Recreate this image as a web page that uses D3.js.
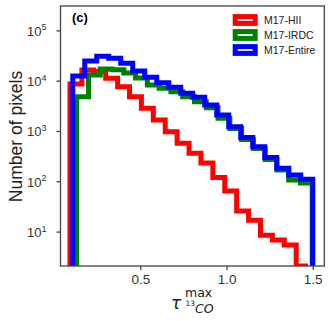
<!DOCTYPE html>
<html>
<head>
<meta charset="utf-8">
<script src="https://cdn.jsdelivr.net/npm/d3@7"></script>
<style>
  body { margin: 0; background: #fff; }
  text { font-family: "Liberation Sans", Arial, sans-serif; }
</style>
</head>
<body>
<div id="container-hist"></div>
<script>
// Series (histtype step, 20 bins each, own range)
const seriesNames = ['M17-HII', 'M17-IRDC', 'M17-Entire'];
const seriesColors = ['#ff0000', '#008000', '#0000ff'];

// bin ranges
const hiiRange = [0.092, 1.473];
const irdcRange = [0.131, 1.497];
const entireRange = [0.108, 1.5];

// counts per bin
const hiiCounts = [8600, 16300, 15200, 11200, 7600, 4810, 2830, 1660, 968, 569,
    360, 231, 119, 64, 25.6, 16.9, 8.5, 6.8, 5.4, 1];
const irdcCounts = [4810, 13000, 17000, 16500, 14200, 11300, 8220, 7060, 6040, 4810,
    3830, 2900, 1790, 1120, 678, 449, 271, 168, 106, 92];
const entireCounts = [12400, 24600, 30500, 27900, 22200, 15600, 11700, 9100, 7400, 5620,
    4680, 3290, 2080, 1220, 743, 488, 297, 181, 133, 110];

const xTicks = [0.5, 1.0, 1.5];
const yTicks = [10, 100, 1000, 10000, 100000];

function plotHistogram() {
    // dimensiones
    const margin = { top: 6, right: 7.7, bottom: 55, left: 60.5 },
        width = 332 - margin.left - margin.right,
        height = 321 - margin.top - margin.bottom;

    const svgRoot = d3.select("#container-hist")
        .append("svg")
        .attr("width", 332)
        .attr("height", 321);

    const svg = svgRoot.append("g")
        .attr("transform", `translate(${margin.left}, ${margin.top})`);

    const x = d3.scaleLinear()
        .domain([0.037, 1.567])
        .range([0, width]);

    const y = d3.scaleLog()
        .domain([2.07, 3.05e5])
        .range([height, 0])
        .clamp(true);

    // clip area
    svg.append("defs").append("clipPath")
        .attr("id", "clip")
        .append("rect")
        .attr("width", width)
        .attr("height", height);

    const series = [
        { name: seriesNames[0], color: seriesColors[0], range: hiiRange, counts: hiiCounts },
        { name: seriesNames[1], color: seriesColors[1], range: irdcRange, counts: irdcCounts },
        { name: seriesNames[2], color: seriesColors[2], range: entireRange, counts: entireCounts }
    ];

    // step outline of each histogram
    function stepPoints(s) {
        const n = s.counts.length;
        const edges = d3.range(n + 1).map(i => s.range[0] + i * (s.range[1] - s.range[0]) / n);
        const pts = [[x(edges[0]), y.range()[0]]];
        s.counts.forEach((c, i) => {
            pts.push([x(edges[i]), y(c)]);
            pts.push([x(edges[i + 1]), y(c)]);
        });
        pts.push([x(edges[n]), y.range()[0]]);
        return pts;
    }

    const line = d3.line();

    svg.append("g")
        .attr("clip-path", "url(#clip)")
        .selectAll("path")
        .data(series)
        .join("path")
        .attr("d", d => line(stepPoints(d)))
        .attr("fill", "none")
        .attr("stroke", d => d.color)
        .attr("stroke-width", 5)
        .attr("stroke-linejoin", "miter");

    // ejes
    const axisColor = "#444";
    const xAxis = svg.append("g")
        .attr("transform", `translate(0, ${height})`)
        .call(d3.axisBottom(x).tickValues(xTicks).tickFormat(d3.format(".1f")).tickSize(4).tickPadding(4));
    const yAxis = svg.append("g")
        .call(d3.axisLeft(y).tickValues(yTicks).tickFormat("").tickSize(4));

    [xAxis, yAxis].forEach(a => {
        a.select(".domain").remove();
        a.selectAll("line").attr("stroke", axisColor).attr("stroke-width", 1.3);
    });
    xAxis.selectAll("text")
        .attr("fill", "#333")
        .style("font-size", "13.5px")
        .style("font-family", "'Liberation Sans', Arial, sans-serif");

    // etiquetas 10^n
    yAxis.selectAll(".tick").each(function (d) {
        const t = d3.select(this).append("text")
            .attr("x", -14)
            .attr("y", 5)
            .attr("text-anchor", "end")
            .attr("fill", "#333")
            .style("font-size", "13px");
        t.append("tspan").text("10");
        t.append("tspan")
            .attr("dy", -5.5)
            .style("font-size", "9px")
            .text(Math.round(Math.log10(d)));
    });

    // marco
    svg.append("rect")
        .attr("width", width)
        .attr("height", height)
        .attr("fill", "none")
        .attr("stroke", axisColor)
        .attr("stroke-width", 1.3);

    // titulo del panel
    svg.append("text")
        .attr("x", 72 - margin.left)
        .attr("y", 22 - margin.top)
        .style("font-size", "13px")
        .style("font-weight", "bold")
        .text("(c)");

    // etiqueta eje Y
    svgRoot.append("text")
        .attr("transform", `translate(22, ${margin.top + height / 2 + 0.5}) rotate(-90)`)
        .attr("text-anchor", "middle")
        .attr("fill", "#222")
        .style("font-size", "17.5px")
        .text("Number of pixels");

    // etiqueta eje X (tau max 13CO)
    const xl = svgRoot.append("g")
        .attr("fill", "#222");
    xl.append("text").attr("x", 171).attr("y", 309)
        .style("font-family", "'DejaVu Sans', sans-serif")
        .style("font-style", "italic").style("font-size", "17px").text("\u03c4");
    xl.append("text").attr("x", 185).attr("y", 296.5)
        .style("font-family", "'DejaVu Sans', sans-serif")
        .style("font-size", "12.5px").text("max");
    xl.append("text").attr("x", 185.5).attr("y", 306)
        .style("font-family", "'DejaVu Sans', sans-serif")
        .style("font-size", "7.5px").text("13");
    xl.append("text").attr("x", 195).attr("y", 313)
        .style("font-family", "'DejaVu Sans', sans-serif")
        .style("font-style", "italic").style("font-size", "12.5px").text("CO");

    // leyenda
    const legend = svgRoot.append("g");
    series.forEach((s, i) => {
        const cy = 20 + i * 15;
        legend.append("rect")
            .attr("x", 235.2)
            .attr("y", cy - 3.4)
            .attr("width", 20)
            .attr("height", 6.8)
            .attr("fill", "none")
            .attr("stroke", s.color)
            .attr("stroke-width", 5);
        legend.append("text")
            .attr("x", 264)
            .attr("y", cy + 3.7)
            .attr("fill", "#222")
            .style("font-size", "10.5px")
            .text(s.name);
    });
}

plotHistogram();
</script>
</body>
</html>
